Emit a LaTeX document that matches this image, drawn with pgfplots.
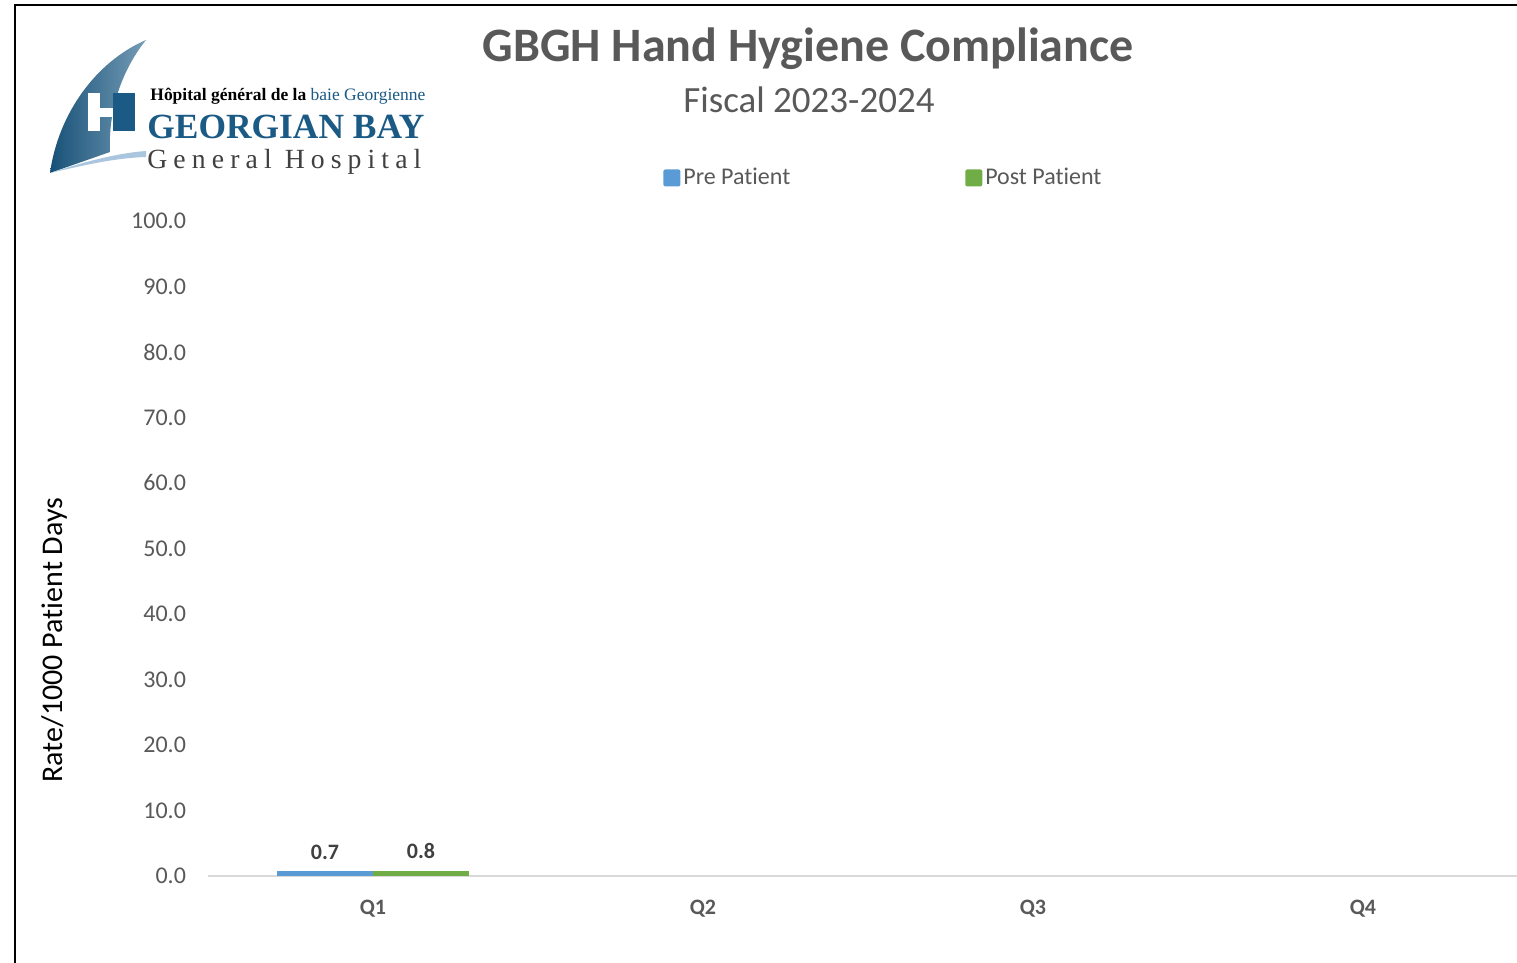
\documentclass[border=0pt]{standalone}
\usepackage{graphicx}
\usepackage{fontspec}
\setmainfont[Ligatures={NoCommon}]{Carlito}
\newfontfamily\logofont{Liberation Serif}
\newfontfamily\logospaced[LetterSpace=22]{Liberation Serif}
\usepackage{pgfplots}
\pgfplotsset{compat=1.18}
\definecolor{txt}{HTML}{595959}
\definecolor{lbl}{HTML}{404040}
\definecolor{preblue}{HTML}{5B9BD5}
\definecolor{postgreen}{HTML}{70AD47}
\definecolor{logoblue}{HTML}{1A5A85}
\definecolor{logolight}{HTML}{A9C6DE}
\begin{document}
\begin{tikzpicture}
\clip (0,0) rectangle (758.5pt,481.5pt);
\fill[white] (0,0) rectangle (758.5pt,481.5pt);
\begin{axis}[
  at={(104pt,43.5pt)}, anchor=south west,
  scale only axis, width=660pt, height=327.5pt,
  xmin=-0.5, xmax=3.5, ymin=0, ymax=100,
  enlargelimits=false,
  ybar=0pt, bar width=48pt,
  axis lines*=left,
  y axis line style={draw=none},
  x axis line style={draw=black!15, line width=1pt},
  tick style={draw=none},
  xtick={0,1,2,3}, xticklabels={Q1,Q2,Q3,Q4},
  ytick={0,10,...,100},
  xticklabel style={font=\fontsize{11}{13}\selectfont\bfseries, text=txt, yshift=-4pt},
  yticklabel style={font=\fontsize{12}{14}\selectfont, text=txt, xshift=-7.5pt},
  /pgf/number format/.cd, fixed, fixed zerofill, precision=1, assume math mode=true,
  /pgfplots/.cd,
  ylabel={Rate/1000 Patient Days},
  ylabel style={font=\fontsize{15}{17}\selectfont, text=black, at={(rel axis cs:-0.1160,0.36)}, anchor=center},
  nodes near coords,
  nodes near coords style={font=\fontsize{11}{13}\selectfont\bfseries, text=lbl, yshift=2.5pt,
    /pgf/number format/.cd, fixed, fixed zerofill, precision=1, assume math mode=true},
  legend columns=2,
  legend style={draw=none, fill=none, at={(rel axis cs:0.3447,1.0657)}, anchor=west,
    font=\fontsize{12}{14}\selectfont, text=txt, inner sep=0pt,
    nodes={inner sep=1.5pt},
    /tikz/every even column/.append style={column sep=86pt}},
  legend cell align=left,
  legend image code/.code={\fill[#1, rounded corners=1pt] (0pt,-4.25pt) rectangle (8.5pt,4.25pt);},
]
\addplot[fill=preblue, draw=none] coordinates {(0,0.7)};
\addplot[fill=postgreen, draw=none] coordinates {(0,0.8)};
\legend{Pre Patient, Post Patient}
\end{axis}
\begin{scope}[x=0.5pt, y=-0.5pt, yshift=481.5pt]
  % frame
  \draw[line width=1.2pt] (15,970) -- (15,5) -- (1530,5);
  % titles
  \node[text=txt, font=\fontsize{24}{28}\selectfont\bfseries] at (808,49) {GBGH Hand Hygiene Compliance};
  \node[text=txt, font=\fontsize{18.5}{22}\selectfont] at (809,100) {Fiscal 2023-2024};
  % logo sail
  \shade[left color=logoblue!90!black, right color=logoblue!60!white]
    (50,173) .. controls (58,115) and (95,62) .. (146,40)
    .. controls (122,70) and (108,110) .. (110,152) -- cycle;
  \fill[logolight] (50,173) .. controls (90,160) and (120,153) .. (146,151)
    -- (146,157) .. controls (115,158) and (85,165) .. cycle;
  \fill[white] (88,93) rectangle (100,131);
  \fill[white] (100,108) rectangle (113,117);
  \fill[logoblue] (113,93) rectangle (135,131);
  \node[anchor=base west, inner sep=0pt] at (150,101)
    {\resizebox{137.5pt}{!}{\logofont\textbf{Hôpital général de la} \textcolor{logoblue}{baie Georgienne}}};
  \node[anchor=base west, inner sep=0pt] at (147,139)
    {\resizebox{138.5pt}{!}{\logofont\bfseries\textcolor{logoblue}{GEORGIAN BAY}}};
  \node[anchor=base west, inner sep=0pt] at (147,169)
    {\resizebox{137pt}{!}{\logospaced\fontsize{15}{17}\selectfont\textcolor{black!75}{General Hospital}}};
\end{scope}
\end{tikzpicture}
\end{document}
